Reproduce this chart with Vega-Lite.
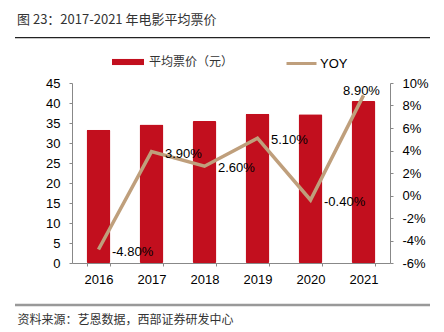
{
  "$schema": "https://vega.github.io/schema/vega-lite/v6.json",
  "width": 318,
  "height": 180,
  "autosize": {"type": "none"},
  "padding": {"left": 72, "top": 83, "right": 54, "bottom": 69},
  "background": "white",
  "config": {
    "view": {"stroke": null},
    "locale": {"number": {"decimal": ".", "thousands": ",", "grouping": [3], "currency": ["$", ""], "minus": "-"}},
    "axis": {"labelFont": "Liberation Sans", "labelFontSize": 13, "labelColor": "#000", "domainColor": "#888", "tickColor": "#888", "grid": false, "titleFont": "Noto Sans CJK SC", "labelOverlap": false}
  },
  "data": {
    "values": [
      {"year": "2016", "price": 33.3, "yoy": -0.048},
      {"year": "2017", "price": 34.6, "yoy": 0.039},
      {"year": "2018", "price": 35.5, "yoy": 0.026},
      {"year": "2019", "price": 37.3, "yoy": 0.051},
      {"year": "2020", "price": 37.2, "yoy": -0.004},
      {"year": "2021", "price": 40.5, "yoy": 0.089}
    ]
  },
  "layer": [
    {
      "mark": {"type": "bar", "cornerRadius": 1.5},
      "encoding": {
        "x": {
          "field": "year", "type": "ordinal",
          "scale": {"paddingInner": 0.55, "paddingOuter": 0.275},
          "axis": {
            "title": "资料来源：艺恩数据，西部证券研发中心",
            "titleAnchor": "start", "titleX": -55, "titleY": 56, "titleBaseline": "middle", "titleAlign": "left",
            "titleFont": "Noto Sans CJK SC", "titleFontSize": 12, "titleFontWeight": "normal", "titleColor": "#333",
            "labelAngle": 0, "tickBand": "extent", "tickSize": 3, "labelPadding": 7
          }
        },
        "y": {
          "field": "price", "type": "quantitative",
          "scale": {"domain": [0, 45]},
          "axis": {"title": null, "values": [0, 5, 10, 15, 20, 25, 30, 35, 40, 45], "tickSize": 3, "labelPadding": 9, "labelOverlap": false}
        },
        "color": {
          "datum": "平均票价（元）",
          "scale": {"range": ["#C20F1E"]},
          "legend": {
            "orient": "none", "legendX": 40, "legendY": -37, "title": null, "padding": 0,
            "symbolType": "M-1,-0.19H1V0.19H-1Z", "symbolSize": 1024, "symbolStrokeWidth": 0,
            "labelFont": "Noto Sans CJK SC", "labelFontSize": 12, "labelColor": "#333", "labelOffset": 5
          }
        }
      }
    },
    {
      "mark": {"type": "line", "strokeWidth": 3.5},
      "encoding": {
        "x": {"field": "year", "type": "ordinal", "scale": {"domain": ["2016", "2017", "2018", "2019", "2020", "2021"]}, "axis": null},
        "y": {
          "field": "yoy", "type": "quantitative",
          "scale": {"domain": [-0.06, 0.1]},
          "axis": {"orient": "right", "title": null, "format": ".0%", "values": [-0.06, -0.04, -0.02, 0, 0.02, 0.04, 0.06, 0.08, 0.1], "tickSize": 3, "labelPadding": 9, "labelOverlap": false, "labelBound": false}
        },
        "stroke": {
          "datum": "YOY",
          "scale": {"range": ["#BF9F7C"]},
          "legend": {
            "orient": "none", "legendX": 213, "legendY": -36, "title": null, "padding": 0,
            "symbolType": "stroke", "symbolSize": 900, "symbolStrokeWidth": 3,
            "labelFont": "Liberation Sans", "labelFontSize": 13, "labelColor": "#000", "labelOffset": 2
          }
        }
      }
    },
    {
      "transform": [{"filter": "datum.year != '2021'"}],
      "mark": {"type": "text", "align": "left", "baseline": "middle", "dx": 13.5, "dy": 2, "font": "Liberation Sans", "fontSize": 13, "color": "#000"},
      "encoding": {
        "x": {"field": "year", "type": "ordinal", "scale": {"domain": ["2016", "2017", "2018", "2019", "2020", "2021"]}, "axis": null},
        "y": {"field": "yoy", "type": "quantitative", "scale": {"domain": [-0.06, 0.1]}, "axis": null},
        "text": {"field": "yoy", "type": "quantitative", "format": ".2%"}
      }
    },
    {
      "transform": [{"filter": "datum.year == '2021'"}],
      "mark": {"type": "text", "align": "center", "baseline": "middle", "dx": -2, "dy": -4, "font": "Liberation Sans", "fontSize": 13, "color": "#000"},
      "encoding": {
        "x": {"field": "year", "type": "ordinal", "scale": {"domain": ["2016", "2017", "2018", "2019", "2020", "2021"]}, "axis": null},
        "y": {"field": "yoy", "type": "quantitative", "scale": {"domain": [-0.06, 0.1]}, "axis": null},
        "text": {"field": "yoy", "type": "quantitative", "format": ".2%"}
      }
    },
    {
      "data": {"values": [{"a": 1, "b": 2, "y": 1, "y2": 1.005}]},
      "mark": {"type": "rect", "clip": false, "color": "#222222"},
      "encoding": {
        "x": {"field": "a", "type": "quantitative", "scale": {"domain": [1, 2], "range": [-57, 358], "zero": false}, "axis": null},
        "x2": {"field": "b"},
        "y": {"field": "y", "type": "quantitative", "scale": {"domain": [1, 2], "range": [-46, 222], "zero": false}, "axis": null},
        "y2": {"field": "y2"}
      }
    },
    {
      "data": {"values": [{"a": 1, "y": 2}, {"a": 2, "y": 2}]},
      "mark": {"type": "line", "clip": false, "color": "#999999", "strokeWidth": 2.5},
      "encoding": {
        "x": {"field": "a", "type": "quantitative", "scale": {"domain": [1, 2], "range": [-57, 358], "zero": false}, "axis": null},
        "y": {"field": "y", "type": "quantitative", "scale": {"domain": [1, 2], "range": [-46, 222], "zero": false}, "axis": null}
      }
    },
    {
      "data": {"values": [{"a": 1, "y": 1, "label": "图 23：2017-2021 年电影平均票价"}]},
      "mark": {"type": "text", "clip": false, "align": "left", "baseline": "middle", "dx": 2, "dy": -17, "font": "Noto Sans CJK SC", "fontSize": 13, "color": "#333"},
      "encoding": {
        "x": {"field": "a", "type": "quantitative", "scale": {"domain": [1, 2], "range": [-57, 358], "zero": false}, "axis": null},
        "y": {"field": "y", "type": "quantitative", "scale": {"domain": [1, 2], "range": [-46, 222], "zero": false}, "axis": null},
        "text": {"field": "label"}
      }
    }
  ],
  "resolve": {"scale": {"x": "independent", "y": "independent", "color": "independent", "stroke": "independent"}}
}
